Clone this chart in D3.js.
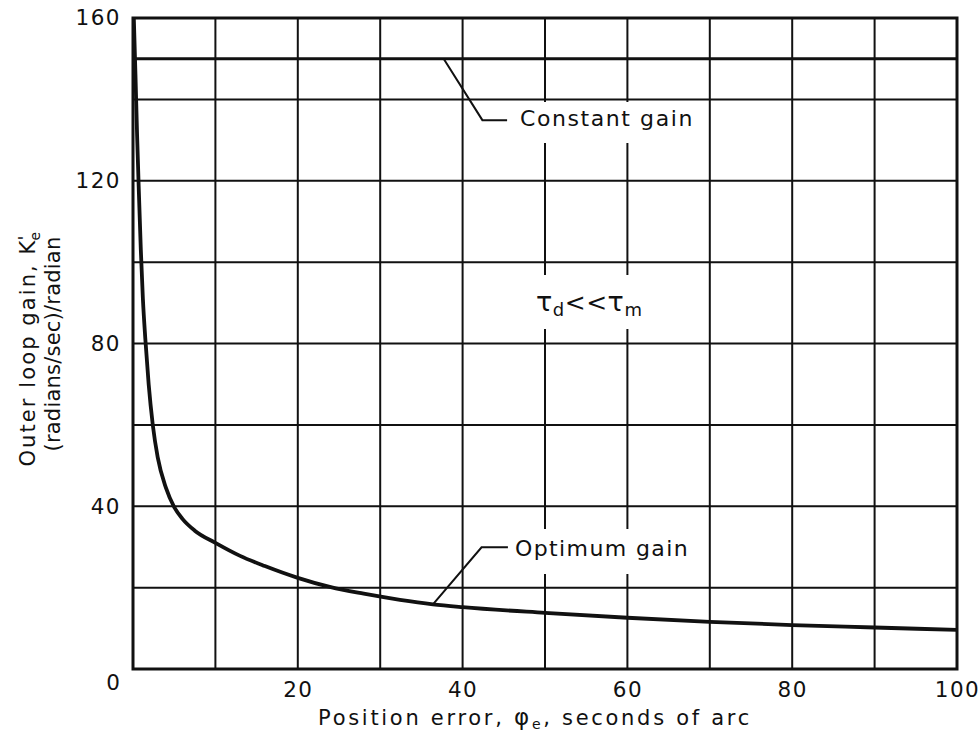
<!DOCTYPE html>
<html>
<head>
<meta charset="utf-8">
<script src="https://cdn.jsdelivr.net/npm/d3@7"></script>
<style>
  html, body { margin: 0; padding: 0; background: #fff; }
  svg text { font-family: "DejaVu Sans", "Liberation Sans", sans-serif; fill: #111; }
</style>
</head>
<body>
<svg id="chart" width="979" height="742"></svg>
<script>
// Optimum outer-loop gain versus position error
const errorArcSec = [0.1, 0.3, 0.5, 0.7, 0.95, 1.2, 1.5, 1.9, 2.4, 3.0, 4.0, 5.0, 6.0, 7.5, 10, 13, 16, 20, 24, 28, 32.4, 36.4, 40, 50, 60, 70, 80, 90, 100];
const optimumGain = [160, 146, 131, 118, 103, 91, 81, 70, 60, 52, 44.5, 39.8, 36.9, 34, 31, 27.8, 25.3, 22.4, 20.1, 18.5, 17, 15.9, 15.2, 13.8, 12.6, 11.6, 10.8, 10.2, 9.6];
const constantGain = 150;

const xTicks = [0, 20, 40, 60, 80, 100];
const yTicks = [0, 40, 80, 120, 160];
const xGrid = [10, 20, 30, 40, 50, 60, 70, 80, 90];
const yGrid = [20, 40, 60, 80, 100, 120, 140];

const svg = d3.select("#chart");
const x = d3.scaleLinear().domain([0, 100]).range([133, 957]);
const y = d3.scaleLinear().domain([0, 160]).range([669, 18]);

const ink = "#111";
const font = "DejaVu Sans, Liberation Sans, sans-serif";

// spread a text's letters so that it spans the given width
function spreadTo(sel, width) {
  const node = sel.node();
  sel.attr("letter-spacing", 0);
  const w0 = node.getComputedTextLength();
  const n = node.textContent.length;
  sel.attr("letter-spacing", ((width - w0) / n).toFixed(2));
  return sel;
}

// grid
const grid = svg.append("g").attr("stroke", ink).attr("stroke-width", 2);
grid.selectAll("line.v").data(xGrid).join("line")
  .attr("x1", d => x(d)).attr("x2", d => x(d))
  .attr("y1", y(160)).attr("y2", y(0));
grid.selectAll("line.h").data(yGrid).join("line")
  .attr("x1", x(0)).attr("x2", x(100))
  .attr("y1", d => y(d)).attr("y2", d => y(d));

// constant gain line
svg.append("line")
  .attr("x1", x(0)).attr("x2", x(100))
  .attr("y1", y(constantGain)).attr("y2", y(constantGain))
  .attr("stroke", ink).attr("stroke-width", 3);

// labels with white gaps cut in the grid behind them
function label(px, py, width, build, padX, padTop, padBottom) {
  const g = svg.append("g");
  const bg = g.append("rect").attr("fill", "#fff");
  const t = g.append("text").attr("x", px).attr("y", py).attr("font-size", 22);
  build(t);
  if (width) spreadTo(t, width);
  const b = t.node().getBBox();
  bg.attr("x", b.x - padX).attr("y", b.y - padTop)
    .attr("width", b.width + 2 * padX).attr("height", b.height + padTop + padBottom);
  return g;
}

label(520, 126, 174, t => t.text("Constant gain"), 6, 4, 12);
label(515, 556, 174, t => t.text("Optimum gain"), 6, 7, 13);
label(536, 311, 0, t => {
  t.attr("letter-spacing", 0.5);
  t.append("tspan").attr("font-size", 27).text("τ");
  t.append("tspan").attr("font-size", 18).attr("dy", 5).text("d");
  t.append("tspan").attr("font-size", 25).attr("dy", -5).text("<<");
  t.append("tspan").attr("font-size", 27).text("τ");
  t.append("tspan").attr("font-size", 18).attr("dy", 5).text("m");
}, 4, 11, 9);

// leader lines
const leader = d3.line().x(d => x(d[0])).y(d => y(d[1]));
svg.append("path")
  .attr("d", leader([[37.7, 150], [42.4, 134.9], [45.4, 134.9]]))
  .attr("fill", "none").attr("stroke", ink).attr("stroke-width", 2);
svg.append("path")
  .attr("d", leader([[36.4, 15.9], [42.3, 29.9], [45.5, 29.9]]))
  .attr("fill", "none").attr("stroke", ink).attr("stroke-width", 2);

// optimum gain curve
const curve = d3.line()
  .x((d, i) => x(errorArcSec[i]))
  .y(d => y(d))
  .curve(d3.curveMonotoneX);
svg.append("path")
  .attr("d", curve(optimumGain))
  .attr("fill", "none").attr("stroke", ink).attr("stroke-width", 3.8)
  .attr("stroke-linejoin", "round");

// frame
svg.append("rect")
  .attr("x", x(0)).attr("y", y(160))
  .attr("width", x(100) - x(0)).attr("height", y(0) - y(160))
  .attr("fill", "none").attr("stroke", ink).attr("stroke-width", 3);

// axes (tick labels only; the grid carries the lines)
const xAxis = d3.axisBottom(x).tickValues(xTicks.filter(d => d > 0)).tickSize(0).tickPadding(13);
const gx = svg.append("g").attr("transform", `translate(0,${y(0)})`).call(xAxis);
gx.select(".domain").remove();
gx.selectAll("text").attr("font-size", 21.5).attr("letter-spacing", 1.5)
  .style("font-family", font).attr("fill", ink);

const yAxis = d3.axisLeft(y).tickValues(yTicks.filter(d => d > 0)).tickSize(0).tickPadding(12);
const gy = svg.append("g").attr("transform", `translate(${x(0)},0)`).call(yAxis);
gy.select(".domain").remove();
gy.selectAll("text").attr("font-size", 21.5).attr("letter-spacing", 1.5)
  .style("font-family", font).attr("fill", ink);

// shared origin label
svg.append("text").attr("x", 113).attr("y", 690)
  .attr("text-anchor", "middle").attr("font-size", 21.5).text(xTicks[0]);

// axis titles
const xt = svg.append("text")
  .attr("x", 318).attr("y", 725).attr("font-size", 21);
xt.append("tspan").text("Position error, ");
xt.append("tspan").attr("font-size", 23).text("φ");
xt.append("tspan").attr("font-size", 14).attr("dy", 4).text("e");
xt.append("tspan").attr("dy", -4).text(", seconds of arc");
spreadTo(xt, 434);

const yc = (y(0) + y(160)) / 2;
const yt1 = svg.append("text")
  .attr("transform", `translate(35,${yc + 123}) rotate(-90)`)
  .attr("font-size", 21);
yt1.append("tspan").text("Outer loop gain, K");
spreadTo(yt1, 228);
yt1.append("tspan").attr("font-size", 18).attr("dy", -4).attr("dx", -2).attr("letter-spacing", 0).text("'");
yt1.append("tspan").attr("font-size", 14).attr("dy", 9).attr("dx", -5).attr("letter-spacing", 0).text("e");

const yt2 = svg.append("text")
  .attr("transform", `translate(60,${yc + 108}) rotate(-90)`)
  .attr("font-size", 21)
  .text("(radians/sec)/radian");
spreadTo(yt2, 215);
</script>
</body>
</html>
